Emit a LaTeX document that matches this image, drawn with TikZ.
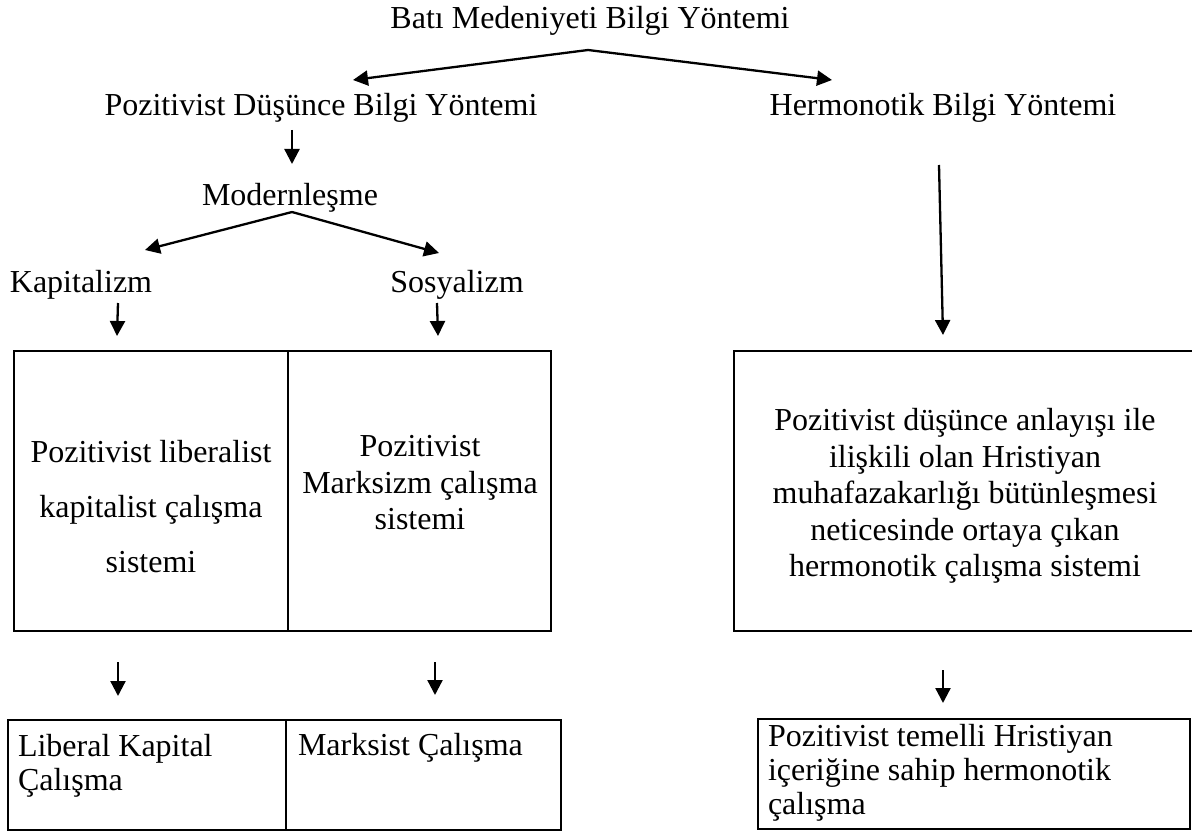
\documentclass[tikz,border=0pt]{standalone}
\usepackage{fontspec}
\setmainfont{Liberation Serif}
\usetikzlibrary{arrows.meta}
\begin{document}
\begin{tikzpicture}[x=1pt,y=-1pt,
  every node/.style={font=\fontsize{32}{36.5}\selectfont, inner sep=0pt, outer sep=0pt},
  lbl/.style={anchor=base},
  arr/.style={line width=2.3pt, -{Triangle[length=15pt,width=15pt]}},
  bigbox/.style={draw, line width=2.6pt, anchor=north west},
  lowbox/.style={draw, line width=1.8pt, anchor=north west}]
\useasboundingbox (0,0) rectangle (1192,832);
\clip (0,0) rectangle (1192,832);

% labels
\node[lbl] (bati) at (590,29) {Batı Medeniyeti Bilgi Yöntemi};
\node[lbl] (poz) at (321,116) {Pozitivist Düşünce Bilgi Yöntemi};
\node[lbl] (herm) at (943,116) {Hermonotik Bilgi Yöntemi};
\node[lbl] (mod) at (290,205) {Modernleşme};
\node[lbl] (kap) at (81,292) {Kapitalizm};
\node[lbl] (sos) at (457,292) {Sosyalizm};

% big boxes
\node[bigbox, minimum width=274pt, minimum height=280pt] (cellA) at (14,351) {};
\node[bigbox, minimum width=263pt, minimum height=280pt] (cellB) at (288,351) {};
\node[bigbox, minimum width=462pt, minimum height=280pt] (cellC) at (734,351) {};

\node[align=center, font=\fontsize{32}{55}\selectfont] (tA) at (151,507) {Pozitivist liberalist\\kapitalist çalışma\\sistemi};
\node[align=center] (tB) at (420,483) {Pozitivist\\Marksizm çalışma\\sistemi};
\node[align=center] (tC) at (965,496) {Pozitivist düşünce anlayışı ile\\ilişkili olan Hristiyan\\muhafazakarlığı bütünleşmesi\\neticesinde ortaya çıkan\\hermonotik çalışma sistemi};

% lower boxes
\node[lowbox, minimum width=278pt, minimum height=110pt] (lowA) at (8,720) {};
\node[lowbox, minimum width=275pt, minimum height=110pt] (lowB) at (286,720) {};
\node[lowbox, minimum width=432pt, minimum height=110pt] (lowC) at (758,719) {};

\node[align=left, anchor=north west, font=\fontsize{32}{34}\selectfont] (tD) at (18,734) {Liberal Kapital\\Çalışma};
\node[lbl, anchor=base west] (tE) at (298,755) {Marksist Çalışma};
\node[align=left, anchor=north west, font=\fontsize{32}{34}\selectfont] (tF) at (768,724) {Pozitivist temelli Hristiyan\\içeriğine sahip hermonotik\\çalışma};

% connector coordinates
\coordinate (apexA) at (588,50);
\coordinate (tipPoz) at (353,80);
\coordinate (tipHerm) at (832,80);
\coordinate (pozS) at (292,130);
\coordinate (pozE) at (292,164);
\coordinate (apexB) at (292,212);
\coordinate (tipKap) at (145,250);
\coordinate (tipSos) at (439,253);
\coordinate (kapS) at (118,303);
\coordinate (kapE) at (117,336);
\coordinate (sosS) at (437,303);
\coordinate (sosE) at (438,336);
\coordinate (hermS) at (939,165);
\coordinate (hermE) at (943,335);
\coordinate (aS) at (118,662);
\coordinate (aE) at (118,696);
\coordinate (bS) at (435,662);
\coordinate (bE) at (435,695);
\coordinate (cS) at (943,670);
\coordinate (cE) at (943,703);

\draw[arr] (apexA) -- (tipPoz);
\draw[arr] (apexA) -- (tipHerm);
\draw[arr] (pozS) -- (pozE);
\draw[arr] (apexB) -- (tipKap);
\draw[arr] (apexB) -- (tipSos);
\draw[arr] (kapS) -- (kapE);
\draw[arr] (sosS) -- (sosE);
\draw[arr] (hermS) -- (hermE);
\draw[arr] (aS) -- (aE);
\draw[arr] (bS) -- (bE);
\draw[arr] (cS) -- (cE);
\end{tikzpicture}
\end{document}
